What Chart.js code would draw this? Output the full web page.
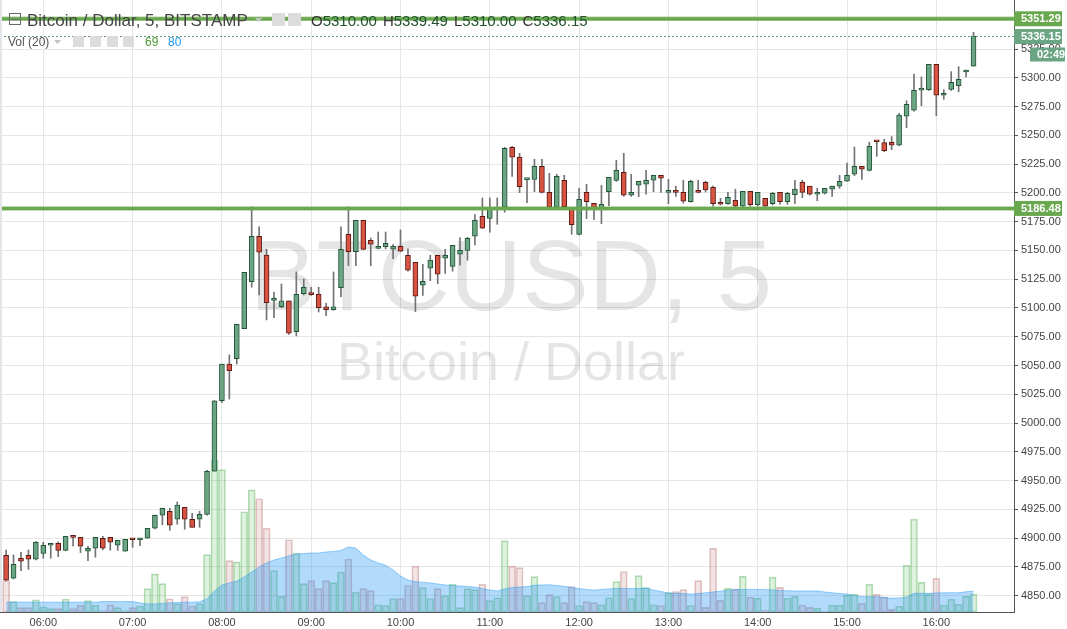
<!DOCTYPE html>
<html>
<head>
<meta charset="utf-8">
<title>BTCUSD, 5</title>
<script src="https://cdn.jsdelivr.net/npm/chart.js@4.4.1/dist/chart.umd.min.js"></script>
<style>
    html, body { margin: 0; padding: 0; background: #ffffff; }
    #wrap { width: 1067px; height: 629px; position: relative; }
</style>
</head>
<body>
<div id="wrap"><canvas id="mainChart"></canvas></div>
<script>
/* =========================
   DATA
========================= */
const times = [
    "05:35", "05:40", "05:45", "05:50", "05:55",
    "06:00", "06:05", "06:10", "06:15", "06:20", "06:25", "06:30", "06:35", "06:40", "06:45", "06:50", "06:55",
    "07:00", "07:05", "07:10", "07:15", "07:20", "07:25", "07:30", "07:35", "07:40", "07:45", "07:50", "07:55",
    "08:00", "08:05", "08:10", "08:15", "08:20", "08:25", "08:30", "08:35", "08:40", "08:45", "08:50", "08:55",
    "09:00", "09:05", "09:10", "09:15", "09:20", "09:25", "09:30", "09:35", "09:40", "09:45", "09:50", "09:55",
    "10:00", "10:05", "10:10", "10:15", "10:20", "10:25", "10:30", "10:35", "10:40", "10:45", "10:50", "10:55",
    "11:00", "11:05", "11:10", "11:15", "11:20", "11:25", "11:30", "11:35", "11:40", "11:45", "11:50", "11:55",
    "12:00", "12:05", "12:10", "12:15", "12:20", "12:25", "12:30", "12:35", "12:40", "12:45", "12:50", "12:55",
    "13:00", "13:05", "13:10", "13:15", "13:20", "13:25", "13:30", "13:35", "13:40", "13:45", "13:50", "13:55",
    "14:00", "14:05", "14:10", "14:15", "14:20", "14:25", "14:30", "14:35", "14:40", "14:45", "14:50", "14:55",
    "15:00", "15:05", "15:10", "15:15", "15:20", "15:25", "15:30", "15:35", "15:40", "15:45", "15:50", "15:55",
    "16:00", "16:05", "16:10", "16:15", "16:20", "16:25"
];

const opens = [
    4885.1, 4865.1, 4882.5, 4885.1, 4881.6, 4886.8, 4893.8, 4895.5, 4889.4, 4901.9,
    4900.7, 4888.6, 4891.2, 4899.9, 4900.7, 4893.8, 4888.6, 4899.0, 4898.6, 4899.9,
    4908.6, 4919.9, 4923.3, 4916.4, 4926.8, 4916.4, 4916.4, 4920.7, 4958.1, 5019.5,
    5051.3, 5055.9, 5082.0, 5122.9, 5162.3, 5146.0, 5106.6, 5101.2, 5106.1, 5079.4,
    5112.4, 5112.0, 5111.9, 5100.9, 5098.5, 5117.6, 5164.0, 5149.0, 5176.2, 5158.8,
    5151.8, 5153.3, 5151.0, 5153.6, 5145.8, 5139.7, 5119.7, 5134.5, 5145.8, 5143.2,
    5136.2, 5146.7, 5150.1, 5162.3, 5179.7, 5177.9, 5185.8, 5187.5, 5239.6, 5231.0,
    5211.5, 5211.8, 5223.1, 5200.5, 5187.5, 5211.0, 5187.5, 5164.0, 5200.5, 5191.0,
    5187.2, 5201.0, 5210.9, 5217.9, 5197.9, 5206.6, 5207.5, 5211.0, 5215.3, 5200.5,
    5202.2, 5200.5, 5192.4, 5200.8, 5209.2, 5204.9, 5191.8, 5190.6, 5193.6, 5188.4,
    5201.4, 5189.8, 5195.3, 5190.6, 5200.5, 5192.4, 5198.4, 5209.2, 5205.8, 5198.8,
    5199.7, 5203.2, 5205.8, 5210.1, 5216.2, 5223.1, 5219.6, 5244.8, 5243.6, 5244.0,
    5241.4, 5266.6, 5271.8, 5289.2, 5289.7, 5311.8, 5284.8, 5290.0, 5293.2, 5305.0, 5310.0
];

const highs = [
    4889.7, 4885.4, 4887.7, 4889.7, 4897.0, 4896.4, 4895.5, 4896.7, 4901.6, 4901.9,
    4900.7, 4892.9, 4900.7, 4901.6, 4900.7, 4898.1, 4899.0, 4899.2, 4899.9, 4908.6,
    4920.0, 4926.0, 4925.9, 4931.4, 4926.8, 4921.6, 4923.3, 4959.0, 5019.5, 5051.3,
    5059.2, 5085.8, 5131.0, 5188.0, 5170.6, 5151.0, 5113.9, 5120.8, 5106.1, 5131.3,
    5125.2, 5118.0, 5118.0, 5104.1, 5131.3, 5170.4, 5188.0, 5176.2, 5176.2, 5160.8,
    5166.0, 5166.0, 5155.0, 5167.8, 5151.3, 5139.7, 5138.0, 5145.8, 5145.8, 5151.0,
    5154.5, 5161.0, 5161.4, 5181.1, 5195.6, 5195.6, 5195.6, 5239.6, 5240.5, 5234.4,
    5211.8, 5229.2, 5229.2, 5217.0, 5216.2, 5215.3, 5187.5, 5204.0, 5207.5, 5191.0,
    5206.6, 5213.6, 5228.3, 5234.4, 5216.2, 5210.1, 5219.6, 5215.3, 5215.3, 5211.8,
    5205.8, 5211.0, 5211.0, 5211.0, 5210.1, 5205.8, 5195.3, 5200.5, 5203.2, 5201.4,
    5201.4, 5200.5, 5195.3, 5200.5, 5200.5, 5200.5, 5211.0, 5211.0, 5205.8, 5204.0,
    5204.0, 5205.8, 5215.3, 5225.8, 5239.9, 5223.1, 5244.0, 5244.8, 5246.6, 5248.9,
    5269.2, 5280.1, 5303.3, 5300.7, 5311.8, 5311.8, 5289.7, 5305.3, 5309.7, 5306.8, 5339.49
];

const lows = [
    4863.0, 4864.5, 4871.7, 4872.9, 4881.0, 4882.5, 4882.5, 4883.9, 4889.0, 4893.2,
    4887.4, 4880.4, 4883.4, 4890.0, 4889.4, 4889.4, 4888.6, 4892.0, 4893.4, 4899.9,
    4908.0, 4911.7, 4906.8, 4912.0, 4907.7, 4909.4, 4909.4, 4920.0, 4958.0, 5017.7,
    5020.9, 5051.3, 5082.0, 5118.0, 5111.3, 5089.6, 5091.6, 5100.0, 5077.0, 5075.7,
    5111.3, 5111.0, 5096.5, 5093.3, 5098.0, 5109.8, 5136.8, 5136.8, 5150.5, 5136.8,
    5151.3, 5151.3, 5142.8, 5149.0, 5131.9, 5096.8, 5111.0, 5123.7, 5121.1, 5130.0,
    5131.9, 5137.1, 5141.5, 5154.7, 5169.0, 5165.8, 5172.7, 5183.2, 5214.4, 5200.2,
    5191.5, 5201.0, 5200.0, 5187.0, 5187.0, 5187.0, 5164.0, 5163.5, 5177.6, 5176.7,
    5173.2, 5188.9, 5210.0, 5197.0, 5197.0, 5196.7, 5198.8, 5201.0, 5200.5, 5190.6,
    5197.0, 5191.0, 5192.0, 5200.0, 5200.8, 5188.4, 5189.5, 5190.0, 5188.0, 5188.0,
    5188.5, 5188.5, 5188.0, 5189.5, 5190.1, 5190.0, 5190.6, 5195.8, 5198.0, 5193.2,
    5199.0, 5197.0, 5204.0, 5210.0, 5215.0, 5211.8, 5219.0, 5231.8, 5235.8, 5237.6,
    5241.0, 5256.7, 5271.0, 5275.8, 5289.0, 5267.0, 5281.3, 5289.0, 5287.8, 5300.7, 5310.0
];

const closes = [
    4863.4, 4877.3, 4879.9, 4881.6, 4896.4, 4893.8, 4895.5, 4889.4, 4901.6, 4900.7,
    4892.9, 4891.2, 4900.7, 4891.2, 4896.4, 4898.1, 4899.0, 4898.6, 4899.0, 4908.6,
    4919.9, 4925.9, 4911.2, 4928.6, 4916.4, 4909.4, 4920.7, 4958.1, 5019.2, 5051.3,
    5045.5, 5085.8, 5131.0, 5162.3, 5148.4, 5104.6, 5107.6, 5106.1, 5078.0, 5111.9,
    5118.0, 5111.6, 5100.3, 5098.5, 5100.9, 5151.0, 5149.0, 5176.2, 5150.9, 5155.4,
    5152.0, 5156.2, 5153.6, 5149.3, 5132.8, 5110.2, 5123.2, 5141.5, 5129.3, 5145.8,
    5154.5, 5150.1, 5160.6, 5176.2, 5169.3, 5186.6, 5187.5, 5238.8, 5231.0, 5205.4,
    5211.8, 5223.1, 5200.5, 5187.5, 5214.4, 5188.0, 5172.4, 5194.4, 5192.4, 5187.2,
    5190.1, 5213.6, 5219.6, 5197.9, 5200.5, 5210.1, 5211.0, 5215.3, 5212.7, 5202.2,
    5200.5, 5192.7, 5210.1, 5200.5, 5202.5, 5190.6, 5190.1, 5196.2, 5188.4, 5201.4,
    5189.8, 5200.5, 5188.4, 5199.7, 5192.4, 5199.7, 5203.2, 5200.5, 5198.8, 5199.7,
    5204.0, 5205.8, 5210.1, 5215.3, 5223.1, 5220.5, 5240.5, 5244.4, 5236.7, 5241.4,
    5267.5, 5277.0, 5289.2, 5291.0, 5311.8, 5284.8, 5285.7, 5296.1, 5298.7, 5306.8, 5336.15
];

const volumes = [
    121, 40, 17, 17, 47, 20, 13, 13, 50, 13,
    26, 44, 26, 5, 28, 17, 5, 17, 23, 90,
    147, 109, 51, 32, 59, 23, 32, 221, 586, 548,
    198, 193, 386, 470, 436, 323, 159, 60, 278, 227,
    109, 121, 90, 121, 113, 154, 204, 76, 90, 82,
    28, 25, 52, 52, 102, 176, 94, 52, 90, 63,
    107, 17, 90, 86, 107, 44, 55, 275, 176, 171,
    63, 136, 36, 67, 59, 36, 98, 25, 40, 36,
    28, 55, 117, 156, 52, 140, 94, 28, 25, 75,
    79, 86, 25, 121, 18, 245, 45, 91, 87, 137,
    57, 53, 7, 134, 95, 53, 60, 26, 18, 14,
    3, 26, 26, 64, 68, 33, 107, 68, 57, 10,
    22, 180, 357, 114, 68, 130, 26, 49, 30, 60, 69
];

const volumeMA = [
    38, 38, 38, 38, 38, 38, 38, 38, 38, 38,
    38, 38, 38, 40, 40, 40, 40, 40, 35, 31,
    31, 33, 35, 37, 38, 38, 39, 50, 81, 104,
    112, 119, 135, 154, 173, 189, 200, 208, 216, 223,
    225, 227, 227, 231, 233, 237, 250, 246, 219, 200,
    189, 180, 162, 139, 123, 117, 114, 112, 108, 104,
    102, 100, 98, 96, 90, 85, 81, 89, 94, 96,
    98, 103, 104, 105, 102, 99, 94, 90, 87, 84,
    87, 89, 90, 90, 90, 90, 92, 84, 79, 73,
    72, 71, 69, 71, 74, 77, 80, 84, 87, 87,
    87, 87, 86, 85, 83, 82, 81, 81, 81, 81,
    77, 74, 71, 69, 64, 59, 59, 59, 56, 53,
    54, 57, 72, 72, 72, 73, 74, 74, 74, 78, 80
];

const hourLabels = [
    "06:00", "07:00", "08:00", "09:00", "10:00", "11:00",
    "12:00", "13:00", "14:00", "15:00", "16:00"
];

const priceTicks = [
    4850, 4875, 4900, 4925, 4950, 4975, 5000, 5025, 5050, 5075, 5100,
    5125, 5150, 5175, 5200, 5225, 5250, 5275, 5300, 5325, 5350
];

const levelPrices = [5351.29, 5186.48];

const symbolTitle = "Bitcoin / Dollar, 5, BITSTAMP";
const watermarkTitle = "BTCUSD, 5";
const watermarkSubtitle = "Bitcoin / Dollar";
const volumeTitle = "Vol (20)";
const countdownText = "02:49";

/* =========================
   CHECK
========================= */
[opens, highs, lows, closes, volumes, volumeMA].forEach(list => {
    if (list.length !== times.length) {
        throw new Error("length mismatch " + list.length + " vs " + times.length);
    }
});

/* =========================
   HELPERS
========================= */
const FONT = '"Liberation Sans", Arial, sans-serif';

const UP_FILL = "#6ba583";
const UP_LINE = "#225437";
const DOWN_FILL = "#d75442";
const DOWN_LINE = "#5b1a13";
const LEVEL_COLOR = "#6aa84f";

function toMinutes(label) {
    const parts = label.split(":");
    return Number(parts[0]) * 60 + Number(parts[1]);
}

function isUp(i) {
    return closes[i] >= opens[i];
}

function zeroPadding(scale) {
    scale.paddingTop = 0;
    scale.paddingBottom = 0;
    scale.paddingLeft = 0;
    scale.paddingRight = 0;
}

function drawTag(ctx, x, y, w, h, fill, text) {
    ctx.fillStyle = fill;
    ctx.fillRect(x, y - h / 2, w, h);
    ctx.fillStyle = "#ffffff";
    ctx.font = "bold 11px " + FONT;
    ctx.textAlign = "left";
    ctx.textBaseline = "middle";
    ctx.fillText(text, x + 7, y + 0.5);
}

function grayIcon(ctx, x, y, s) {
    ctx.fillStyle = "#dcdcdc";
    ctx.fillRect(x, y, s, s);
}

/* =========================
   DATASETS
========================= */
const xs = times.map(toMinutes);

const bodyData = xs.map((x, i) => ({ x: x, y: [opens[i], closes[i]] }));
const wickData = xs.map((x, i) => ({ x: x, y: [lows[i], highs[i]] }));
const volumeData = xs.map((x, i) => ({ x: x, y: volumes[i] }));
const maData = xs.map((x, i) => ({ x: x, y: volumeMA[i] }));

/* =========================
   DECOR PLUGIN
========================= */
const chartDecor = {
    id: "chartDecor",

    beforeDatasetsDraw(chart) {
        const ctx = chart.ctx;

        ctx.save();
        ctx.fillStyle = "rgba(0, 0, 0, 0.1)";
        ctx.textAlign = "center";
        ctx.textBaseline = "alphabetic";
        ctx.font = "100px " + FONT;
        ctx.fillText(watermarkTitle, 511, 310);
        ctx.font = "54px " + FONT;
        ctx.fillText(watermarkSubtitle, 511, 380);
        ctx.restore();
    },

    afterDatasetsDraw(chart) {
        const ctx = chart.ctx;
        const area = chart.chartArea;
        const yScale = chart.scales.y;

        ctx.save();

        /* LEVEL LINES */
        levelPrices.forEach(price => {
            const y = yScale.getPixelForValue(price);
            ctx.strokeStyle = "rgba(106, 168, 79, 0.55)";
            ctx.lineWidth = 4.5;
            ctx.beginPath();
            ctx.moveTo(area.left, y);
            ctx.lineTo(area.right, y);
            ctx.stroke();
            ctx.strokeStyle = LEVEL_COLOR;
            ctx.lineWidth = 3;
            ctx.beginPath();
            ctx.moveTo(area.left, y);
            ctx.lineTo(area.right, y);
            ctx.stroke();
        });

        /* LAST PRICE LINE */
        const lastClose = closes[closes.length - 1];
        const lastY = Math.round(yScale.getPixelForValue(lastClose)) + 0.5;
        ctx.strokeStyle = "#5f9474";
        ctx.lineWidth = 1;
        ctx.setLineDash([2, 2]);
        ctx.beginPath();
        ctx.moveTo(area.left, lastY);
        ctx.lineTo(area.right, lastY);
        ctx.stroke();
        ctx.setLineDash([]);

        /* PRICE TAGS */
        levelPrices.forEach(price => {
            const y = yScale.getPixelForValue(price);
            drawTag(ctx, area.right, y, 48, 15, LEVEL_COLOR, price.toFixed(2));
        });
        drawTag(ctx, area.right, lastY, 48, 15, "#6ba583", lastClose.toFixed(2));
        drawTag(ctx, area.right + 16, lastY + 18, 35, 14, "#6ba583", countdownText);

        ctx.restore();
    },

    afterDraw(chart) {
        const ctx = chart.ctx;

        ctx.save();

        /* LEFT BORDER */
        ctx.fillStyle = "#e3e5ea";
        ctx.fillRect(0, 0, 2, 612);

        /* SYMBOL HEADER */
        ctx.strokeStyle = "#6a6a6a";
        ctx.lineWidth = 1;
        ctx.strokeRect(9.5, 13.5, 11, 11);
        ctx.beginPath();
        ctx.moveTo(11.5, 19.5);
        ctx.lineTo(18.5, 19.5);
        ctx.stroke();

        ctx.fillStyle = "#444444";
        ctx.font = "17px " + FONT;
        ctx.textAlign = "left";
        ctx.textBaseline = "alphabetic";
        ctx.fillText(symbolTitle, 27, 26);

        ctx.fillStyle = "#c4c4c4";
        ctx.beginPath();
        ctx.moveTo(255, 18);
        ctx.lineTo(262, 18);
        ctx.lineTo(258.5, 22);
        ctx.closePath();
        ctx.fill();

        grayIcon(ctx, 272, 13, 13);
        grayIcon(ctx, 288, 13, 13);

        /* OHLC */
        const last = closes.length - 1;
        const ohlc = [
            ["O", opens[last]],
            ["H", highs[last]],
            ["L", lows[last]],
            ["C", closes[last]]
        ];
        let x = 311;
        ctx.font = "15px " + FONT;
        ohlc.forEach(item => {
            ctx.fillStyle = "#333333";
            ctx.fillText(item[0], x, 26);
            x += ctx.measureText(item[0]).width;
            const value = item[1].toFixed(2);
            ctx.fillStyle = "#22522f";
            ctx.fillText(value, x, 26);
            x += ctx.measureText(value).width + 6;
        });

        /* VOLUME HEADER */
        ctx.fillStyle = "#555555";
        ctx.font = "12px " + FONT;
        ctx.fillText(volumeTitle, 8, 45.5);

        ctx.fillStyle = "#c4c4c4";
        ctx.beginPath();
        ctx.moveTo(54, 40);
        ctx.lineTo(61, 40);
        ctx.lineTo(57.5, 44);
        ctx.closePath();
        ctx.fill();

        [73, 90, 107, 123].forEach(ix => grayIcon(ctx, ix, 36, 11));

        ctx.fillStyle = "#4c9a32";
        ctx.fillText(String(volumes[last]), 145, 45.5);
        ctx.fillStyle = "#2196f3";
        ctx.fillText(String(volumeMA[last]), 168, 45.5);

        ctx.restore();
    }
};

/* =========================
   CHART
========================= */
const ctx = document.getElementById("mainChart").getContext("2d");

const mainChart = new Chart(ctx, {
    type: "bar",
    data: {
        datasets: [
            {
                label: "Bodies",
                data: bodyData,
                grouped: false,
                barThickness: 5,
                minBarLength: 2,
                borderWidth: 1,
                borderSkipped: false,
                backgroundColor: xs.map((_, i) => isUp(i) ? UP_FILL : DOWN_FILL),
                borderColor: xs.map((_, i) => isUp(i) ? UP_LINE : DOWN_LINE),
                order: 1
            },
            {
                label: "Wicks",
                data: wickData,
                grouped: false,
                barThickness: 1,
                borderWidth: 0,
                backgroundColor: "#737375",
                order: 2
            },
            {
                type: "line",
                label: "Volume MA",
                data: maData,
                yAxisID: "yv",
                fill: "origin",
                backgroundColor: "rgba(33, 150, 243, 0.35)",
                borderColor: "rgba(33, 150, 243, 0.45)",
                borderWidth: 1,
                pointRadius: 0,
                tension: 0,
                order: 3
            },
            {
                label: "Volume",
                data: volumeData,
                yAxisID: "yv",
                grouped: false,
                barThickness: 7,
                borderWidth: 1,
                borderSkipped: false,
                backgroundColor: xs.map((_, i) =>
                    isUp(i) ? "rgba(76, 175, 80, 0.18)" : "rgba(190, 110, 110, 0.18)"),
                borderColor: xs.map((_, i) =>
                    isUp(i) ? "rgba(76, 175, 80, 0.42)" : "rgba(180, 100, 100, 0.38)"),
                order: 4
            }
        ]
    },
    options: {
        responsive: true,
        maintainAspectRatio: false,
        animation: false,
        devicePixelRatio: 1,
        layout: { padding: 0 },
        plugins: {
            legend: { display: false },
            tooltip: { enabled: false }
        },
        scales: {
            x: {
                type: "linear",
                min: 330.9,
                max: 1012.2,
                offset: false,
                afterBuildTicks: scale => {
                    scale.ticks = hourLabels.map(h => ({ value: toMinutes(h) }));
                },
                afterFit: scale => {
                    scale.height = 17;
                    zeroPadding(scale);
                },
                ticks: {
                    autoSkip: false,
                    maxRotation: 0,
                    padding: 1,
                    color: "#444444",
                    font: { family: FONT, size: 11 },
                    callback: (value, index) => hourLabels[index]
                },
                grid: {
                    offset: false,
                    color: "#e6e6e6",
                    tickLength: 3,
                    tickColor: "rgba(0, 0, 0, 0)"
                },
                border: { display: true, color: "#555555", width: 1 }
            },
            y: {
                type: "linear",
                position: "right",
                min: 4835.8,
                max: 5367.6,
                afterBuildTicks: scale => {
                    scale.ticks = priceTicks.map(v => ({ value: v }));
                },
                afterFit: scale => {
                    scale.width = 53;
                    zeroPadding(scale);
                },
                ticks: {
                    autoSkip: false,
                    padding: 3,
                    color: "#444444",
                    font: { family: FONT, size: 11 },
                    callback: value => Number(value).toFixed(2)
                },
                grid: {
                    color: "#e6e6e6",
                    tickLength: 4,
                    tickColor: "#555555"
                },
                border: { display: true, color: "#555555", width: 1 }
            },
            yv: {
                type: "linear",
                display: false,
                min: 0,
                max: 2356,
                grid: { display: false }
            }
        }
    },
    plugins: [chartDecor]
});
</script>
</body>
</html>
